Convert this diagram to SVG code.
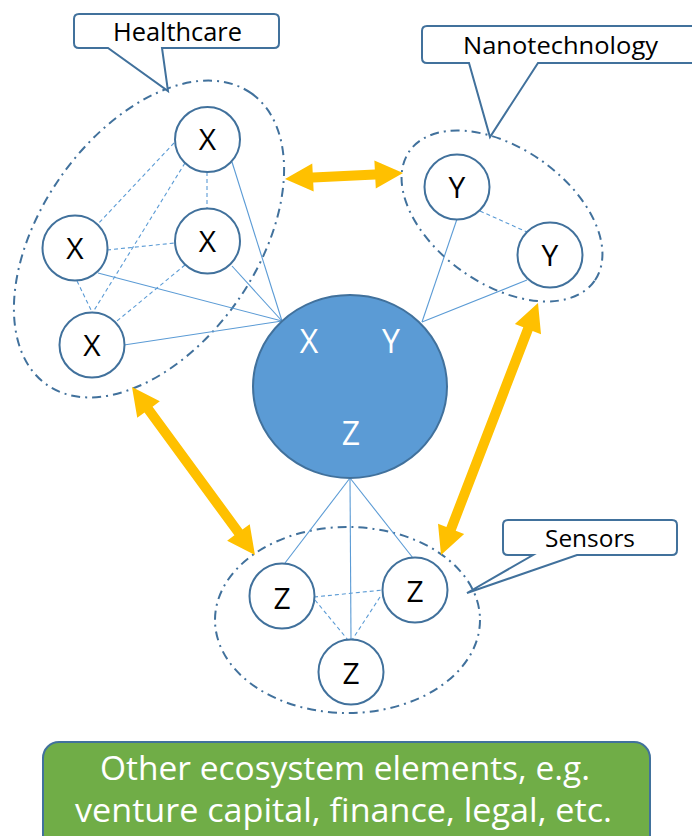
<svg xmlns="http://www.w3.org/2000/svg" width="692" height="836" viewBox="0 0 692 836">
  <style>
    .group { fill: none; stroke: #41719C; stroke-width: 2; stroke-dasharray: 9 5 2 5; }
    .node { fill: #FFFFFF; stroke: #41719C; stroke-width: 2; }
    .link { stroke: #5B9BD5; stroke-width: 1.1; fill: none; }
    .weak { stroke: #5B9BD5; stroke-width: 1.1; fill: none; stroke-dasharray: 4 3; }
    .arrow { fill: #FFC000; }
    .callout { fill: #FFFFFF; stroke: #41719C; stroke-width: 2; stroke-linejoin: miter; }
    .lbl { font-family: "Open Sans", "Liberation Sans", sans-serif; fill: #000000; text-anchor: middle; }
    .letter { font-family: "Open Sans", "Liberation Sans", sans-serif; font-size: 30px; fill: #000000; text-anchor: middle; }
    .hub { font-family: "Open Sans", "Liberation Sans", sans-serif; font-size: 32px; fill: #FFFFFF; text-anchor: middle; }
    .note { font-family: "Open Sans", "Liberation Sans", sans-serif; font-size: 33px; fill: #FFFFFF; text-anchor: middle; }
  </style>

  <!-- cluster outlines -->
  <g id="clusters">
    <ellipse id="cluster-healthcare" class="group" cx="149" cy="239" rx="178" ry="108" transform="rotate(-55 149 239)"/>
    <ellipse id="cluster-nano" class="group" cx="502" cy="216" rx="113" ry="68" transform="rotate(35 502 216)"/>
    <ellipse id="cluster-sensors" class="group" cx="347.5" cy="620" rx="132.5" ry="93"/>
  </g>

  <!-- connectors -->
  <g id="connectors">
    <!-- hub to members -->
    <line class="link" x1="282" y1="321" x2="232" y2="162"/>
    <line class="link" x1="282" y1="321" x2="232" y2="266"/>
    <line class="link" x1="282" y1="321" x2="98" y2="273"/>
    <line class="link" x1="282" y1="321" x2="124" y2="345"/>
    <line class="link" x1="422" y1="322" x2="457" y2="219"/>
    <line class="link" x1="422" y1="322" x2="527" y2="280"/>
    <line class="link" x1="350" y1="478" x2="285" y2="563"/>
    <line class="link" x1="350" y1="478" x2="413" y2="558"/>
    <line class="link" x1="350" y1="478" x2="351" y2="640"/>
    <!-- ties inside clusters -->
    <line class="weak" x1="207" y1="172" x2="207" y2="208"/>
    <line class="weak" x1="174" y1="143" x2="97" y2="225"/>
    <line class="weak" x1="185" y1="163" x2="93" y2="312"/>
    <line class="weak" x1="107" y1="250" x2="175" y2="243"/>
    <line class="weak" x1="77" y1="281" x2="92" y2="312"/>
    <line class="weak" x1="185" y1="265" x2="117" y2="321"/>
    <line class="weak" x1="480" y1="211" x2="527" y2="232"/>
    <line class="weak" x1="314" y1="597" x2="383" y2="590"/>
    <line class="weak" x1="315" y1="600" x2="348" y2="640"/>
    <line class="weak" x1="380" y1="597" x2="352" y2="640"/>
    <!-- exchange between clusters -->
    <path class="arrow" transform="translate(285 179) rotate(-2.91)" d="M0,0 L28,-14 L28,-5 L90.2,-5 L90.2,-14 L118.2,0 L90.2,14 L90.2,5 L28,5 L28,14 Z"/>
    <path class="arrow" transform="translate(132 387) rotate(53.8)" d="M0,0 L28,-14 L28,-5 L180.2,-5 L180.2,-14 L208.2,0 L180.2,14 L180.2,5 L28,5 L28,14 Z"/>
    <path class="arrow" transform="translate(538 303) rotate(111.05)" d="M0,0 L28,-14 L28,-5 L242,-5 L242,-14 L270,0 L242,14 L242,5 L28,5 L28,14 Z"/>
  </g>

  <!-- central hub -->
  <g id="hub">
    <ellipse cx="350" cy="386.5" rx="97" ry="91.5" fill="#5B9BD5" stroke="#41719C" stroke-width="2"/>
    <text class="hub" x="309" y="353">X</text>
    <text class="hub" x="391" y="353">Y</text>
    <text class="hub" x="351" y="445">Z</text>
  </g>

  <!-- healthcare members -->
  <g id="x-top"><circle class="node" cx="207.5" cy="139.5" r="32.5"/><text class="letter" x="207.5" y="150">X</text></g>
  <g id="x-right"><circle class="node" cx="207.5" cy="241" r="32.5"/><text class="letter" x="207.5" y="252">X</text></g>
  <g id="x-left"><circle class="node" cx="75" cy="248" r="32.5"/><text class="letter" x="75" y="259">X</text></g>
  <g id="x-bottom"><circle class="node" cx="92" cy="345" r="32.5"/><text class="letter" x="92" y="356">X</text></g>

  <!-- nanotechnology members -->
  <g id="y-top"><circle class="node" cx="457" cy="187" r="32.5"/><text class="letter" x="457" y="198">Y</text></g>
  <g id="y-bottom"><circle class="node" cx="550" cy="255" r="32.5"/><text class="letter" x="550" y="266">Y</text></g>

  <!-- sensor members -->
  <g id="z-left"><circle class="node" cx="282" cy="596" r="32.5"/><text class="letter" x="282" y="609">Z</text></g>
  <g id="z-right"><circle class="node" cx="415" cy="590" r="32.5"/><text class="letter" x="415" y="602">Z</text></g>
  <g id="z-bottom"><circle class="node" cx="351" cy="672" r="32.5"/><text class="letter" x="351" y="684">Z</text></g>

  <!-- callout labels -->
  <g id="label-healthcare">
    <path class="callout" d="M79,14 H274 Q279,14 279,19 V43 Q279,48 274,48 H162 L168,91 L108,48 H79 Q74,48 74,43 V19 Q74,14 79,14 Z"/>
    <text class="lbl" x="177.5" y="41" font-size="25" textLength="129" lengthAdjust="spacingAndGlyphs">Healthcare</text>
  </g>
  <g id="label-nano">
    <path class="callout" d="M427,26 H706 V63 H538 L490,137 L469,63 H427 Q422,63 422,58 V31 Q422,26 427,26 Z"/>
    <text class="lbl" x="560.5" y="54" font-size="24" textLength="195" lengthAdjust="spacingAndGlyphs">Nanotechnology</text>
  </g>
  <g id="label-sensors">
    <path class="callout" d="M508,520 H672 Q677,520 677,525 V550 Q677,555 672,555 H577 L467,593 L533,555 H508 Q503,555 503,550 V525 Q503,520 508,520 Z"/>
    <text class="lbl" x="590" y="547" font-size="24" textLength="90" lengthAdjust="spacingAndGlyphs">Sensors</text>
  </g>

  <!-- other ecosystem elements -->
  <g id="ecosystem">
    <rect x="43" y="742" width="607" height="110" rx="16" ry="16" fill="#70AD47" stroke="#41719C" stroke-width="2"/>
    <text class="note" x="345" y="780" textLength="490" lengthAdjust="spacingAndGlyphs">Other ecosystem elements, e.g.</text>
    <text class="note" x="343.5" y="822" textLength="537" lengthAdjust="spacingAndGlyphs">venture capital, finance, legal, etc.</text>
  </g>
</svg>
